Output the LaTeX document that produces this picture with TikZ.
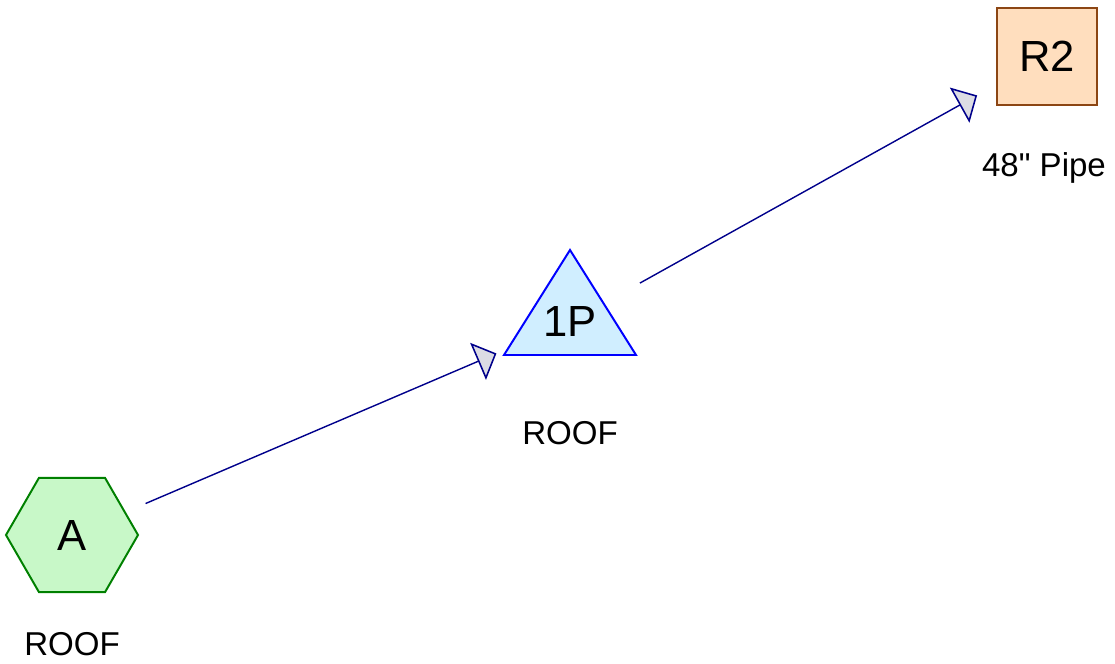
\documentclass[tikz,border=0pt]{standalone}
\usepackage{fontspec}
\setmainfont{Liberation Sans}
\usepackage{tikz}
\usetikzlibrary{shapes.geometric, arrows.meta, positioning}

\definecolor{hexfill}{RGB}{200,248,200}
\definecolor{hexline}{RGB}{0,128,0}
\definecolor{trifill}{RGB}{208,238,255}
\definecolor{triline}{RGB}{0,0,255}
\definecolor{boxfill}{RGB}{255,222,190}
\definecolor{boxline}{RGB}{140,70,20}
\definecolor{linkline}{RGB}{0,0,139}
\definecolor{tipfill}{RGB}{220,220,228}

\begin{document}
\begin{tikzpicture}[
        x=0.025cm, y=-0.025cm,
        hexnode/.style={regular polygon, regular polygon sides=6, minimum size=3.3cm, inner sep=0pt, draw=hexline, fill=hexfill, line width=1.4pt, font=\fontsize{31}{37}\selectfont},
        tribox/.style={draw=triline, fill=trifill, line width=1.4pt, line join=miter},
        trinode/.style={inner sep=0pt, font=\fontsize{31}{37}\selectfont},
        boxnode/.style={rectangle, draw=boxline, fill=boxfill, line width=1.4pt, minimum width=2.5cm, minimum height=2.425cm, inner sep=0pt, font=\fontsize{31}{37}\selectfont},
        tag/.style={anchor=base, inner sep=0pt, font=\fontsize{23.5}{28}\selectfont},
        link/.style={-{Triangle[length=0.5cm, width=1cm, fill=tipfill, line width=1.1pt]}, draw=linkline, line width=1pt, shorten <=2cm, shorten >=2cm}
    ]
        \useasboundingbox (0,0) rectangle (1115,663);

        % Nodes
        \node[hexnode] (A) at (72,535) {A};
        \draw[tribox] (570,250) -- (636,355) -- (504,355) -- cycle;
        \node[trinode] (P) at (570,322) {1P};
        \node[boxnode] (R2) at (1047,56.5) {R2};

        % Labels
        \node[tag] (roofA) at (72,655) {ROOF};
        \node[tag] (roofP) at (570,444) {ROOF};
        \node[tag] (pipe) at (1044,176) {48\textquotedbl{} Pipe};

        % Connectors
        \draw[link] (A.center) -- (P.center);
        \draw[link] (P.center) -- (R2.center);
\end{tikzpicture}
\end{document}
